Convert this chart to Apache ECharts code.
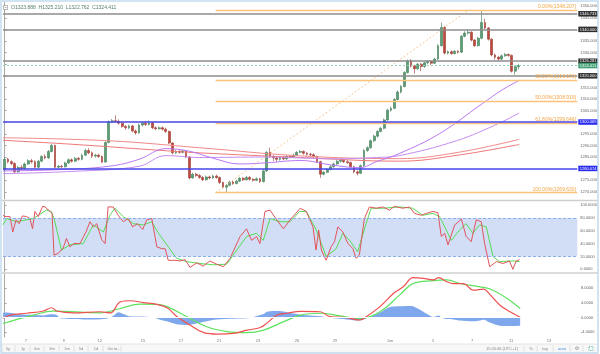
<!DOCTYPE html>
<html>
<head>
<meta charset="utf-8">
<script src="https://cdn.jsdelivr.net/npm/echarts@6/dist/echarts.min.js"></script>
<style>
html, body { margin: 0; padding: 0; background: #fff; }
#chart { width: 600px; height: 354px; }
</style>
</head>
<body>
<div id="chart"></div>
<script>
// candles: [open, close, low, high], one per 4h slot
const candles = [
  [1279.5,1284.0,1279.0,1284.8],[1284.0,1283.0,1282.3,1284.6],[1283.0,1282.2,1281.5,1283.6],[1282.2,1278.6,1278.0,1282.8],
  [1278.6,1280.5,1278.2,1281.2],[1280.5,1280.0,1279.3,1281.5],[1280.0,1282.0,1279.6,1282.6],[1282.0,1283.4,1281.6,1284.0],
  [1283.4,1283.0,1282.2,1284.2],[1283.0,1280.6,1280.0,1283.6],[1280.6,1283.2,1280.2,1283.8],[1283.2,1285.2,1282.8,1285.8],
  [1285.2,1284.6,1284.0,1286.2],[1284.6,1287.4,1284.2,1288.0],[1287.4,1290.0,1287.0,1290.6],[1290.0,1280.6,1280.2,1290.4],
  [1280.6,1281.0,1280.2,1281.6],[1281.0,1280.8,1280.3,1281.6],[1280.8,1282.4,1280.5,1283.0],[1282.4,1283.8,1282.0,1284.4],
  [1283.8,1283.2,1282.6,1284.4],[1283.2,1284.4,1282.8,1285.0],[1284.4,1284.0,1283.4,1285.0],[1284.0,1285.8,1283.6,1286.4],
  [1285.8,1287.8,1285.4,1288.6],[1287.8,1286.8,1286.2,1288.8],[1286.8,1285.4,1284.6,1287.4],[1285.4,1285.8,1284.8,1286.4],
  [1285.8,1285.2,1284.6,1286.4],[1285.2,1282.8,1282.4,1285.6],[1282.8,1291.2,1282.6,1291.8],[1291.2,1300.2,1291.0,1300.8],
  [1300.2,1300.6,1299.6,1301.4],[1300.6,1300.4,1299.8,1303.0],[1300.4,1299.6,1299.0,1301.2],[1299.6,1298.2,1297.6,1300.2],
  [1298.2,1297.6,1296.8,1298.8],[1297.6,1298.4,1297.0,1299.0],[1298.4,1296.2,1295.6,1298.8],[1296.2,1295.4,1294.6,1296.8],
  [1295.4,1298.8,1295.0,1299.4],[1298.8,1299.6,1298.2,1300.4],[1299.6,1299.0,1298.4,1300.6],[1299.0,1299.8,1298.6,1300.8],
  [1299.8,1297.6,1297.0,1300.2],[1297.6,1297.2,1296.6,1298.2],[1297.2,1297.6,1296.8,1298.2],[1297.6,1297.0,1296.4,1298.2],
  [1297.0,1296.0,1295.4,1297.6],[1296.0,1291.0,1290.6,1296.4],[1291.0,1286.8,1286.2,1291.4],[1286.8,1287.4,1286.2,1288.0],
  [1287.4,1287.0,1286.4,1288.0],[1287.0,1287.6,1286.6,1288.2],[1287.6,1285.0,1284.6,1288.0],[1285.0,1276.0,1275.4,1285.4],
  [1276.0,1277.6,1275.6,1278.2],[1277.6,1277.0,1276.4,1278.2],[1277.0,1276.2,1275.6,1277.6],[1276.2,1275.2,1274.6,1276.8],
  [1275.2,1276.4,1274.8,1277.0],[1276.4,1276.0,1275.4,1277.0],[1276.0,1276.8,1275.6,1277.4],[1276.8,1276.2,1275.6,1277.4],
  [1276.2,1274.0,1273.4,1276.6],[1274.0,1272.0,1271.4,1274.4],[1272.0,1272.8,1269.6,1273.4],[1272.8,1274.2,1272.4,1274.8],
  [1274.2,1273.6,1273.0,1274.8],[1273.6,1274.6,1273.2,1275.2],[1274.6,1275.8,1274.2,1276.4],[1275.8,1275.2,1274.6,1276.4],
  [1275.2,1276.2,1274.8,1276.8],[1276.2,1275.4,1274.8,1276.8],[1275.4,1275.0,1274.4,1275.8],[1275.0,1275.6,1274.6,1276.2],
  [1275.6,1274.4,1273.8,1276.0],[1274.4,1279.0,1274.0,1279.6],[1279.0,1287.0,1278.6,1287.6],[1287.0,1285.2,1284.6,1289.0],
  [1285.2,1284.6,1283.2,1285.8],[1284.6,1284.0,1282.8,1285.2],[1284.0,1284.8,1283.4,1285.4],[1284.8,1284.2,1283.6,1285.4],
  [1284.2,1285.2,1283.8,1285.8],[1285.2,1285.0,1284.4,1285.8],[1285.0,1285.8,1284.6,1286.4],[1285.8,1287.0,1285.4,1287.6],
  [1287.0,1287.4,1286.6,1288.0],[1287.4,1286.6,1286.0,1287.8],[1286.6,1286.2,1285.6,1287.2],[1286.2,1286.0,1285.4,1286.8],
  [1286.0,1285.2,1284.6,1286.6],[1285.2,1283.0,1282.4,1285.6],[1283.0,1277.6,1276.0,1283.4],[1277.6,1278.4,1277.0,1279.0],
  [1278.4,1279.6,1278.0,1280.2],[1279.6,1280.8,1279.2,1281.4],[1280.8,1282.0,1280.4,1282.6],[1282.0,1283.2,1281.6,1283.8],
  [1283.2,1283.6,1282.6,1284.2],[1283.6,1283.0,1282.4,1284.0],[1283.0,1282.6,1282.0,1283.6],[1282.6,1280.8,1280.2,1283.0],
  [1280.8,1278.6,1278.0,1281.2],[1278.6,1278.0,1277.0,1279.2],[1278.0,1281.2,1277.6,1281.8],[1281.2,1287.8,1280.8,1288.4],
  [1287.8,1289.0,1287.2,1289.6],[1289.0,1292.0,1288.6,1292.6],[1292.0,1294.0,1291.6,1294.6],[1294.0,1296.0,1293.4,1296.6],
  [1296.0,1297.4,1295.6,1298.0],[1297.4,1301.0,1297.0,1301.6],[1301.0,1305.2,1300.6,1305.8],[1305.2,1306.0,1304.6,1306.8],
  [1306.0,1309.8,1305.6,1310.4],[1309.8,1313.0,1309.4,1313.6],[1313.0,1315.4,1312.4,1316.0],[1315.4,1321.4,1315.0,1322.0],
  [1321.4,1326.4,1321.0,1327.0],[1326.4,1324.2,1323.6,1327.2],[1324.2,1323.0,1321.0,1324.8],[1323.0,1325.0,1322.6,1325.6],
  [1325.0,1324.0,1322.0,1325.6],[1324.0,1325.6,1323.4,1326.2],[1325.6,1326.2,1325.0,1326.8],[1326.2,1325.4,1324.6,1326.8],
  [1325.4,1327.2,1325.0,1327.8],[1327.2,1333.0,1326.8,1333.6],[1333.0,1340.8,1332.6,1343.0],[1340.8,1329.8,1329.2,1341.4],
  [1329.8,1330.4,1329.2,1331.0],[1330.4,1329.6,1329.0,1331.0],[1329.6,1330.6,1329.2,1331.2],[1330.6,1330.2,1329.6,1331.0],
  [1330.2,1337.0,1329.8,1337.6],[1337.0,1338.4,1336.6,1339.2],[1338.4,1338.8,1337.8,1339.8],[1338.8,1335.4,1334.8,1339.2],
  [1335.4,1333.0,1332.4,1335.8],[1333.0,1336.2,1332.6,1336.8],[1336.2,1343.0,1335.8,1348.2],[1343.0,1340.6,1340.0,1344.6],
  [1340.6,1335.8,1335.2,1341.0],[1335.8,1329.0,1328.4,1336.2],[1329.0,1328.0,1327.0,1329.6],[1328.0,1327.2,1326.4,1328.6],
  [1327.2,1328.6,1326.8,1329.2],[1328.6,1329.2,1328.2,1329.8],[1329.2,1328.8,1328.2,1329.6],[1328.8,1322.0,1321.4,1329.2],
  [1322.0,1323.9,1320.4,1324.4],[1323.888,1324.411,1322.762,1325.21]
];
const slotCount = 171;

// moving averages: [slot, price]
const maPurpleFast = [[-0.5,1279.0],[15,1279.5],[31,1281.0],[40,1284.0],[48,1288.6],[55,1287.5],[62,1284.5],[70,1282.0],[78,1282.5],[88,1283.5],[97.6,1281.5],[105.7,1280.4],[110.7,1283.0],[117.5,1286.5],[129.4,1295.0],[142.2,1308.0],[148.2,1314.0],[153.2,1318.0]];
const maPurpleSlow = [[-0.5,1277.8],[20,1278.8],[40,1281.0],[48,1285.6],[58,1284.8],[78,1285.0],[88,1284.6],[97.6,1284.2],[110.7,1284.8],[117.5,1285.6],[134.5,1292.0],[147.3,1299.6],[153.2,1304.0]];
const maRedA = [[-0.5,1293.3],[31,1292.0],[58,1289.0],[88,1285.5],[117.5,1284.3],[135,1287.0],[153.2,1292.6]];
const maRedB = [[-0.5,1292.2],[20,1290.5],[45,1288.0],[58,1286.8],[88,1284.8],[117.5,1283.2],[135,1285.8],[153.2,1290.4]];

// horizontal levels
const grayLevels = [1346.733, 1340.000, 1326.281, 1320.000];
const blueLevels = [1300.069, 1280.074];
const lastPrice = 1324.411;
const fibLevels = [1348.207, 1318.191, 1308.919, 1299.646, 1269.630];
const fibNames = ['0.00%', '38.20%', '50.00%', '61.80%', '100.00%'];
const fibStart = 62.8;
const fibDiagEnd = 138;
const priceTicks = [1270,1275,1280,1285,1290,1295,1300,1305,1310,1315,1320,1325,1330,1335,1340,1345,1350];

// stochastic
const stochK = [[-0.5,84],[0.1,82],[1.6,82],[2.4,58],[3.4,77],[4.3,71],[5.3,83],[6.5,82],[7.5,79],[8.3,63],[9,90],[10,82],[11.3,98],[12,97],[13.5,90],[14.1,87],[14.7,22],[16,25],[17.4,33],[18.4,48],[19.4,35],[20.6,40],[22.4,40],[24.2,58],[25.4,74],[26.4,66],[27.4,71],[28.9,46],[29.9,40],[30.8,97],[32.3,97],[33.8,84],[35.3,74],[36.8,79],[38.1,66],[39.5,71],[41.1,62],[42.3,77],[43.8,79],[45.3,35],[46.8,32],[47.8,32],[48.7,14],[50.7,14],[52.2,13],[53.7,15],[55.2,3],[57.2,10],[59.1,5],[61.1,13],[63.1,8],[65.1,4],[67.1,17],[70.1,51],[72,63],[73.5,45],[75,51],[76,40],[77.5,90],[79,92],[81,77],[83,63],[85,77],[88,95],[89.8,90],[91.8,66],[92.7,30],[93.5,61],[94.3,30],[95.7,14],[97.2,35],[98.2,43],[99.2,66],[100.7,58],[102.2,40],[103.7,32],[104.6,17],[105.6,22],[107.1,79],[108.6,97],[110.6,95],[112.6,97],[114.6,92],[116,98],[118.5,95],[120.5,97],[122,87],[124,84],[125.5,87],[127.5,90],[129,88],[130,51],[131,56],[132,38],[134,69],[136,78],[137.4,51],[138.9,43],[140.4,77],[141.9,74],[142.9,40],[144.4,4],[146.4,12],[148.4,9],[150.3,13],[151.3,0],[152.3,13],[153.3,15]];
const stochD = [[-0.5,69],[0.6,79],[3.5,74],[8.5,79],[12.4,92],[13.9,90],[14.9,75],[16.9,30],[19.4,38],[23.4,40],[26.4,69],[29.4,58],[31.3,84],[32.8,95],[35.3,82],[38.3,71],[41.3,69],[43.8,74],[45.8,56],[48.3,38],[51.2,17],[54.2,12],[58.1,9],[62.1,7],[66.1,8],[69.1,30],[72,51],[75,56],[77,45],[79,79],[82,74],[85,74],[87.8,90],[89.8,90],[92.8,61],[95.7,20],[98.7,32],[100.7,56],[102.7,45],[105.1,27],[107.6,71],[109.1,95],[112.6,95],[117.5,97],[121.5,95],[124.5,84],[127.5,87],[129.5,82],[131.5,61],[133,45],[135.4,61],[137.4,71],[139.4,56],[141.4,69],[143.4,66],[145.4,20],[147.3,12],[151.3,13],[153.3,12]];
const stochTicks = [0, 20, 40, 60, 80, 100];

// MACD
const macdLine = [[-0.5,-0.2],[1.6,0.7],[6.5,1.2],[11.5,1.8],[14,2.7],[15.5,1.8],[20.4,1.3],[28.4,1.6],[31.4,1.3],[34.4,4.3],[37.3,4.6],[41.3,4.1],[45.3,3.6],[48.3,2.7],[51.2,0.3],[55.1,-2.0],[59.2,-4.1],[63.2,-4.5],[68,-4.3],[72.1,-3.4],[76,-2.7],[78,-1.5],[81,0.7],[84,1.2],[88,1.7],[93.8,1.6],[96.7,0.3],[101.7,0.0],[105.6,-0.65],[107.6,0.3],[111.6,3.0],[115.6,6.6],[118.5,8.4],[121.5,10.9],[124.5,10.7],[127.5,10.3],[129,10.9],[131.5,9.8],[133.4,9.3],[136.4,9.3],[139.4,7.5],[142.4,7.8],[144.4,6.2],[147.3,3.4],[150.3,1.6],[153.3,0.1]];
const signalLine = [[-0.5,-1.6],[8.5,0.7],[14.5,1.8],[28.4,1.3],[34.4,2.5],[40.3,3.7],[45.3,3.6],[48.3,3.0],[54.1,0.3],[60.1,-2.5],[66.1,-3.8],[72,-4.1],[77,-3.4],[83,-1.1],[88,0.7],[93.8,1.2],[99.7,0.5],[105.6,-0.2],[111.6,1.6],[117.5,6.2],[121.5,9.3],[127.5,10.1],[131.5,10.3],[135.4,9.3],[141.4,8.4],[144.4,7.8],[149.3,5.3],[153.3,2.5]];
const macdHist = [[-0.5,1.3],[0.6,1.4],[4.5,0.9],[8.5,0.7],[11.5,0.6],[13.5,0.9],[15.5,0.7],[16.5,-0.2],[20,-0.4],[23.4,-0.5],[30.3,-0.3],[32.3,0.5],[33.8,1.5],[35.3,1.0],[37,0.4],[40,0.3],[44.2,0.1],[46,-0.5],[48.2,-1.0],[51.1,-1.8],[54.1,-2.0],[57,-1.6],[60.1,-1.0],[63,-0.5],[68,-0.3],[72,-0.2],[74,0.2],[77,1.0],[78,1.6],[80,1.8],[83,1.7],[86,1.1],[88,0.8],[90.8,0.6],[93.8,0.4],[96.7,0.0],[99.7,-0.3],[101.7,-0.5],[105.6,-0.8],[107.6,-0.2],[111.6,1.4],[114.6,2.9],[117.5,3.1],[120.5,3.2],[121.5,3.1],[124.5,1.6],[126,0.8],[127.5,0.2],[129,0.6],[130,0.0],[131.5,-0.4],[133.4,-0.5],[135.4,-0.8],[139.4,-1.0],[141.4,-0.8],[142.4,-0.6],[144.4,-1.4],[147.3,-2.2],[150.3,-2.3],[153.3,-2.2]];
const macdTicks = [-4, 0, 4, 8];

// time axis labels
const dayNames = ['7', '9', '12', '15', '17', '21', '23', '26', '29', 'Jun', '5', '7', '11', '13'];
const dayPos = [6.3, 17.6, 28.3, 41.1, 52.4, 63.7, 75.3, 86.9, 98.2, 114.6, 127.4, 139, 150.6, 161.9];

// bottom toolbar
const rangeButtons = ['5y', '1y', '6m', '3m', '1m', '5d', '1d', 'Go to...'];
const rangeButtonX = [8, 23, 37, 52, 67, 81, 96, 114];

const FONT = 'Liberation Sans';
const chart = echarts.init(document.getElementById('chart'), null, { renderer: 'canvas' });

const GRID_L = 3, GRID_R = 22;
const slots = Array.from({ length: slotCount }, (_, i) => i);

function boxLabel(text, bg) {
  return {
    show: true, position: 'end', distance: 1, formatter: text,
    backgroundColor: bg, color: '#fff', fontSize: 4, fontFamily: FONT,
    padding: [1, 1.5, 0.5, 1.5]
  };
}

const levelLines = [];
grayLevels.forEach(v => levelLines.push({
  yAxis: v, lineStyle: { color: '#8c8c8c', width: 1.6, type: 'solid' },
  label: boxLabel(v.toFixed(3), '#2e2e2e')
}));
blueLevels.forEach(v => levelLines.push({
  yAxis: v, lineStyle: { color: '#4646ea', width: 1.6, type: 'solid' },
  label: boxLabel(v.toFixed(3), '#2b2bef')
}));
levelLines.push({
  yAxis: lastPrice, lineStyle: { color: '#8fd6b6', width: 1, type: [2, 2] },
  label: boxLabel(lastPrice.toFixed(3), '#3f9f72')
});

const fibLines = fibLevels.map((v, i) => [
  {
    coord: [fibStart, v],
    lineStyle: { color: '#fbc27a', width: 1.4, type: 'solid' },
    label: {
      show: true, position: 'insideEndTop', distance: 1,
      formatter: fibNames[i] + '(' + v.toFixed(3) + ')',
      color: '#f3a544', fontSize: 5, fontFamily: FONT
    }
  },
  { coord: [slotCount - 0.5, v] }
]);
fibLines.push([
  { coord: [fibStart, fibLevels[4]], lineStyle: { color: '#f9b878', width: 1, type: [1.5, 2.5] }, label: { show: false } },
  { coord: [fibDiagEnd, fibLevels[0]] }
]);

const axisLabelBase = { fontSize: 4, color: '#666', fontFamily: FONT, margin: 3 };

const option = {
  animation: false,
  backgroundColor: '#fff',
  grid: [
    { left: GRID_L, right: GRID_R, top: 2, height: 197 },
    { left: GRID_L, right: GRID_R, top: 202, height: 70 },
    { left: GRID_L, right: GRID_R, top: 274, height: 63 }
  ],
  xAxis: [
    { type: 'category', gridIndex: 0, data: slots, show: false, boundaryGap: true },
    { type: 'value', gridIndex: 0, min: -0.5, max: slotCount - 0.5, show: false },
    { type: 'value', gridIndex: 1, min: -0.5, max: slotCount - 0.5, show: false },
    {
      type: 'value', gridIndex: 2, min: -0.5, max: slotCount - 0.5,
      splitLine: { show: false },
      axisLine: { show: true, lineStyle: { color: '#bdbdbd', width: 1 } },
      axisTick: { show: false },
      axisLabel: {
        fontSize: 4, color: '#777', fontFamily: FONT, margin: 2,
        customValues: dayPos,
        formatter: v => dayNames[dayPos.indexOf(v)] ?? ''
      }
    }
  ],
  yAxis: [
    {
      type: 'value', gridIndex: 0, position: 'right', min: 1266.9, max: 1351.81,
      splitLine: { show: false },
      axisLine: { show: true, lineStyle: { color: '#a8a8a8' } },
      axisTick: { show: true, length: 2, lineStyle: { color: '#a8a8a8' }, customValues: priceTicks },
      axisLabel: Object.assign({}, axisLabelBase, { customValues: priceTicks, formatter: v => v.toFixed(3) })
    },
    {
      type: 'value', gridIndex: 1, position: 'right', min: -4.2, max: 104.7,
      splitLine: { show: false },
      axisLine: { show: true, lineStyle: { color: '#a8a8a8' } },
      axisTick: { show: true, length: 2, lineStyle: { color: '#a8a8a8' }, customValues: stochTicks },
      axisLabel: Object.assign({}, axisLabelBase, { customValues: stochTicks, formatter: v => v.toFixed(4) })
    },
    {
      type: 'value', gridIndex: 2, position: 'right', min: -5.28, max: 11.9,
      splitLine: { show: false },
      axisLine: { show: true, lineStyle: { color: '#a8a8a8' } },
      axisTick: { show: true, length: 2, lineStyle: { color: '#a8a8a8' }, customValues: macdTicks },
      axisLabel: Object.assign({}, axisLabelBase, { customValues: macdTicks, formatter: v => v.toFixed(4) })
    }
  ],
  series: [
    {
      type: 'line', xAxisIndex: 1, yAxisIndex: 0, data: maRedA, smooth: 0.4, showSymbol: false,
      lineStyle: { color: '#f28a8a', width: 1 }, clip: false,
      markLine: { silent: true, symbol: ['none', 'none'], data: fibLines }
    },
    { type: 'line', xAxisIndex: 1, yAxisIndex: 0, data: maRedB, smooth: 0.4, showSymbol: false, lineStyle: { color: '#f07878', width: 1 } },
    { type: 'line', xAxisIndex: 1, yAxisIndex: 0, data: maPurpleSlow, smooth: 0.4, showSymbol: false, lineStyle: { color: '#c58cf2', width: 1 } },
    { type: 'line', xAxisIndex: 1, yAxisIndex: 0, data: maPurpleFast, smooth: 0.4, showSymbol: false, lineStyle: { color: '#bb78f4', width: 1 } },
    {
      type: 'candlestick', xAxisIndex: 0, yAxisIndex: 0, data: candles, barWidth: 2.3, clip: false,
      itemStyle: { color: '#5a9f74', color0: '#c0473b', borderColor: '#3f7a56', borderColor0: '#9a3a30', borderWidth: 0.6 },
      markLine: { silent: true, symbol: ['none', 'none'], data: levelLines }
    },
    {
      type: 'line', xAxisIndex: 2, yAxisIndex: 1, data: stochD, showSymbol: false,
      lineStyle: { color: '#55dc55', width: 1 },
      markArea: { silent: true, itemStyle: { color: '#d2def5' }, data: [[{ yAxis: 20 }, { yAxis: 80 }]] },
      markLine: {
        silent: true, symbol: ['none', 'none'], label: { show: false },
        lineStyle: { color: '#8eb0e9', width: 1, type: [3, 2] },
        data: [{ yAxis: 20 }, { yAxis: 80 }]
      }
    },
    { type: 'line', xAxisIndex: 2, yAxisIndex: 1, data: stochK, showSymbol: false, lineStyle: { color: '#e2545c', width: 1 }, clip: false },
    {
      type: 'line', xAxisIndex: 3, yAxisIndex: 2, data: macdHist, smooth: 0.3, showSymbol: false,
      lineStyle: { width: 0 }, areaStyle: { color: '#7fa7ec', opacity: 1, origin: 0 },
      markLine: {
        silent: true, symbol: ['none', 'none'], label: { show: false },
        lineStyle: { color: '#ffffff', width: 1.2, type: 'solid' }, data: [{ yAxis: 0 }]
      }
    },
    { type: 'line', xAxisIndex: 3, yAxisIndex: 2, data: signalLine, smooth: 0.4, showSymbol: false, lineStyle: { color: '#5ee25e', width: 1.2 } },
    { type: 'line', xAxisIndex: 3, yAxisIndex: 2, data: macdLine, smooth: 0.4, showSymbol: false, lineStyle: { color: '#ef5050', width: 1.2 } }
  ],
  graphic: [
    // outer frame and panel separators
    { type: 'rect', shape: { x: 1, y: 1, width: 597, height: 352 }, style: { fill: null, stroke: '#c4dcef', lineWidth: 1.5 }, silent: true, z: 50 },
    { type: 'line', shape: { x1: 2, y1: 200.5, x2: 598, y2: 200.5 }, style: { stroke: '#cfcfcf', lineWidth: 1.5 }, silent: true, z: 50 },
    { type: 'line', shape: { x1: 2, y1: 273, x2: 598, y2: 273 }, style: { stroke: '#cfcfcf', lineWidth: 1.5 }, silent: true, z: 50 },
    // OHLC readout
    { type: 'rect', shape: { x: 3.5, y: 5.5, width: 4, height: 4 }, style: { fill: '#fff', stroke: '#8a8a8a', lineWidth: 0.6 }, z: 60 },
    { type: 'line', shape: { x1: 4.5, y1: 7.5, x2: 6.5, y2: 7.5 }, style: { stroke: '#8a8a8a', lineWidth: 0.6 }, z: 60 },
    {
      type: 'text', left: 11, top: 5, z: 60,
      style: { text: 'O1323.888  H1325.210  L1322.762  C1324.411', fill: '#56806a', font: '5px "' + FONT + '"' }
    },
    // toolbar
    { type: 'rect', shape: { x: 2, y: 344, width: 596, height: 9 }, style: { fill: '#f7f7f7', stroke: '#dedede', lineWidth: 0.8 }, z: 40 },
    ...rangeButtons.map((t, i) => ({
      type: 'text', x: rangeButtonX[i], y: 348.5, z: 60,
      style: { text: t, fill: '#888', font: '4px "' + FONT + '"', align: 'center', verticalAlign: 'middle' }
    })),
    ...rangeButtonX.map(x => ({
      type: 'line', shape: { x1: x + 7, y1: 345.5, x2: x + 7, y2: 351.5 }, style: { stroke: '#d4d4d4', lineWidth: 0.6 }, z: 60
    })),
    { type: 'text', x: 502, y: 348.5, z: 60, style: { text: '15:20:46 (UTC+1)', fill: '#888', font: '4px "' + FONT + '"', align: 'center', verticalAlign: 'middle' } },
    { type: 'text', x: 531, y: 348.5, z: 60, style: { text: '%', fill: '#888', font: '4px "' + FONT + '"', align: 'center', verticalAlign: 'middle' } },
    { type: 'text', x: 545, y: 348.5, z: 60, style: { text: 'log', fill: '#888', font: '4px "' + FONT + '"', align: 'center', verticalAlign: 'middle' } },
    { type: 'text', x: 562, y: 348.5, z: 60, style: { text: 'auto', fill: '#3b8ee0', font: '4px "' + FONT + '"', align: 'center', verticalAlign: 'middle' } },
    { type: 'text', x: 577, y: 348.5, z: 60, style: { text: '⚙', fill: '#888', font: '5px "DejaVu Sans"', align: 'center', verticalAlign: 'middle' } },
    { type: 'rect', shape: { x: 589, y: 346.5, width: 4, height: 4 }, style: { fill: null, stroke: '#3fb8a0', lineWidth: 0.8, lineDash: [1.2, 1.2] }, z: 60 },
    ...[524, 537, 553, 570, 583].map(x => ({
      type: 'line', shape: { x1: x, y1: 345.5, x2: x, y2: 351.5 }, style: { stroke: '#d4d4d4', lineWidth: 0.6 }, z: 60
    }))
  ]
};

chart.setOption(option);
</script>
</body>
</html>
